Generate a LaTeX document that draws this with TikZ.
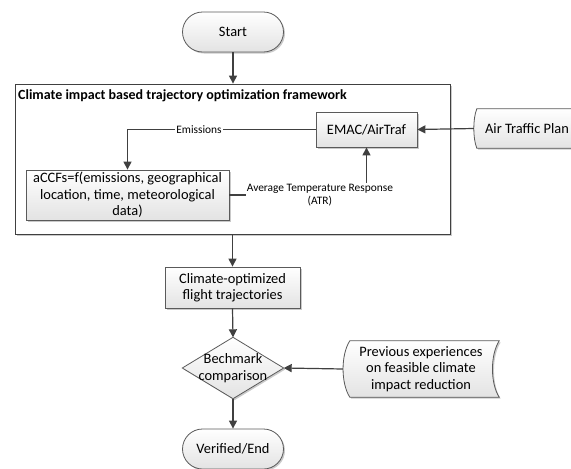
\documentclass[tikz,border=0pt]{standalone}
\usepackage{fontspec}
\setmainfont{Carlito}
\usetikzlibrary{arrows.meta,shadows,backgrounds}
\definecolor{ln}{HTML}{404040}
\definecolor{bd}{HTML}{5A5A5A}
\begin{document}
\begin{tikzpicture}[x=1pt,y=-1pt,
  base/.style={font=\fontsize{14.4}{16.5}\selectfont, align=center, inner sep=0pt},
  shad/.style={drop shadow={shadow xshift=1.5pt,shadow yshift=-1.5pt,fill=black!35,opacity=0.6}},
  fillsty/.style={draw=bd, line width=0.8pt, top color=white, bottom color=black!11, shad},
  box/.style={base, fillsty},
  term/.style={box, rounded corners=20pt, minimum width=101pt, minimum height=40pt},
  lbl/.style={font=\fontsize{11.4}{12.5}\selectfont, fill=white, inner sep=1pt, align=center},
  arr/.style={draw=ln, line width=1.2pt, -{Triangle[length=8pt,width=8pt]}},
  ]
\useasboundingbox (0,0) rectangle (571,469);

% framework container
\node[draw=ln, line width=0.8pt, fill=white, minimum width=435pt, minimum height=150pt, inner sep=0pt, shad] (fw) at (232.5,159) {};
\node[base, anchor=west, font=\fontsize{14}{16}\selectfont\bfseries] (title) at (18,96) {Climate impact based trajectory optimization framework};

% nodes
\node[term] (start) at (233,32) {Start};
\node[box, minimum width=101pt, minimum height=35pt] (emac) at (366.5,129.5) {EMAC/AirTraf};
\node[box, minimum width=203pt, minimum height=50pt] (accf) at (127.5,195) {aCCFs=f(emissions, geographical\\location, time, meteorological\\data)};
\node[box, minimum width=135pt, minimum height=41pt] (clim) at (232.5,287.5) {Climate-optimized\\flight trajectories};
\node[base, minimum width=101pt, minimum height=61pt] (bench) at (233,368) {Bechmark\\comparison};
\node[base, minimum width=156pt, minimum height=56pt] (prev) at (421,369) {Previous experiences\\on feasible climate\\impact reduction};
\node[base, minimum width=106pt, minimum height=39pt] (atp) at (527,128.5) {Air Traffic Plan};
\node[term] (verified) at (233,449) {Verified/End};

% shapes drawn behind their texts
\begin{pgfonlayer}{background}
\path[fillsty] (bench.north) -- (bench.east) -- (bench.south) -- (bench.west) -- cycle;
\path[fillsty] ([xshift=7pt]prev.north west) -- (prev.north east)
   .. controls +(-9,14) and +(-9,-14) .. (prev.south east)
   -- ([xshift=7pt]prev.south west)
   .. controls +(-9,-14) and +(-9,14) .. ([xshift=7pt]prev.north west) -- cycle;
\path[fillsty] ([xshift=3pt]atp.north west) -- (atp.north east)
   .. controls +(-4,10) and +(-4,-10) .. (atp.south east)
   -- ([xshift=3pt]atp.south west)
   .. controls +(-4,-10) and +(-4,10) .. ([xshift=3pt]atp.north west) -- cycle;
\end{pgfonlayer}

% connectors
\draw[arr] (start.south) -- (start.south |- fw.north);
\draw[arr] (emac.west) -| (accf.north) node[lbl, pos=0.31] {Emissions};
\draw[arr] (accf.east) -| (emac.south) node[lbl, pos=0.33] {Average Temperature Response\\(ATR)};
\draw[arr] (atp.west) -- (emac.east);
\draw[arr] (fw.south -| clim.north) -- (clim.north);
\draw[arr] (clim.south) -- (bench.north);
\draw[arr] (prev.west) -- (bench.east);
\draw[arr] (bench.south) -- (verified.north);
\end{tikzpicture}
\end{document}
